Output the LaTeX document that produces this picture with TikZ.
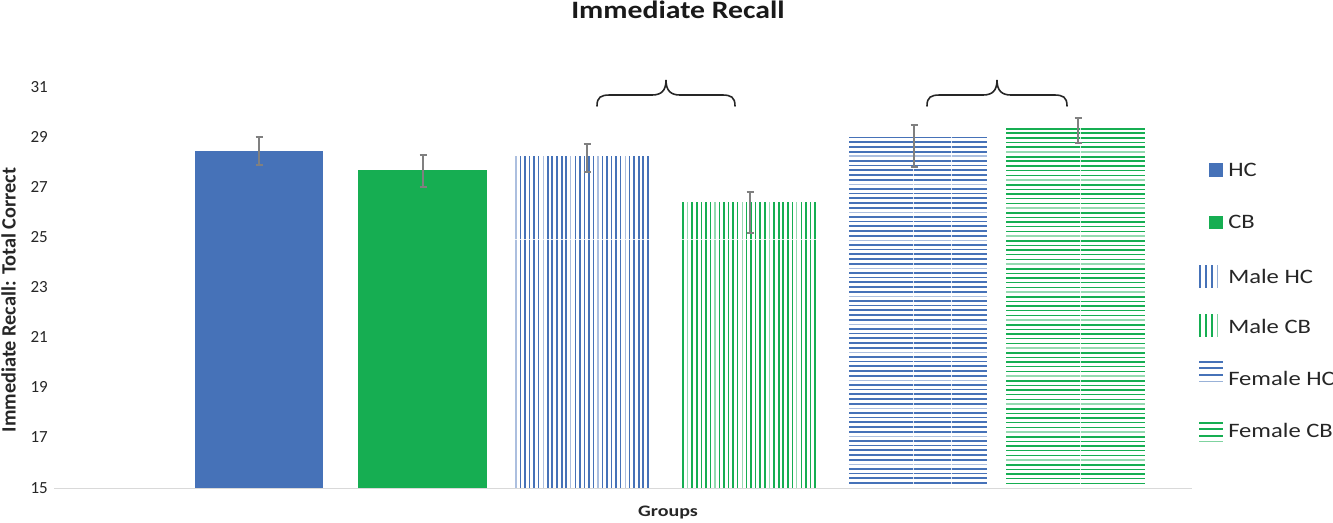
\documentclass[tikz,border=0pt]{standalone}
\usepackage{fontspec}
\setmainfont{Carlito}
\definecolor{hcblue}{RGB}{70,114,184}
\definecolor{cbgreen}{RGB}{22,174,82}
\definecolor{errgray}{RGB}{128,128,128}
\definecolor{axisgray}{RGB}{217,217,217}
\definecolor{txt}{RGB}{38,38,38}
\begin{document}
\begin{tikzpicture}[x=1pt,y=-1pt,
  tick/.style={anchor=east,font=\fontsize{17}{17}\selectfont,text=txt,inner sep=0pt},
  legtext/.style={anchor=west,font=\fontsize{20.5}{20.5}\selectfont,text=txt,inner sep=0pt,xscale=1.2},
  errbar/.style={draw=errgray,line width=2.2pt},
  errcap/.style={draw=errgray,line width=1.6pt},
  bracestyle/.style={draw=black!85,line width=1.6pt,line cap=round},
  seam/.style={draw=white,line width=0.8pt,opacity=0.8}]
\useasboundingbox (0,0) rectangle (1333,522);

% title and axis labels
\node[font=\fontsize{25}{25}\selectfont\bfseries,text=black!90,xscale=1.19,inner sep=0pt] (title) at (678,10) {Immediate Recall};
\node[font=\fontsize{20.3}{20.3}\selectfont\bfseries,text=txt,rotate=90,inner sep=0pt] (ylab) at (8.5,300) {Immediate Recall: Total Correct};
\node[font=\fontsize{16}{16}\selectfont\bfseries,text=txt,xscale=1.25,anchor=base,inner sep=0pt] (xlab) at (668,516.5) {Groups};

% ticks
\foreach \v/\yy in {31/87,29/137,27/187,25/237,23/287,21/337,19/387,17/437,15/488}
  \node[tick] (t\v) at (48,\yy) {\v};

% axis
\draw[axisgray,line width=1.6pt] (54,488.5) -- (1192,488.5);

% solid bars
\fill[hcblue] (195,151) rectangle (323,488);
\fill[cbgreen] (358,170) rectangle (487,488);

% Male HC vertical stripes
\foreach \i in {0,...,29}{
  \pgfmathtruncatemacro\m{mod(\i,6)}
  \pgfmathsetmacro\op{\m==0 ? 0.45 : 1}
  \pgfmathsetmacro\lw{(\m==2 || \m==4) ? 2.0 : 1.3}
  \draw[hcblue,line width=\lw pt,draw opacity=\op] (516+\i*4.55,156) -- (516+\i*4.55,488);
}
% Male CB vertical stripes
\foreach \i in {0,...,29}{
  \pgfmathtruncatemacro\m{mod(\i,6)}
  \pgfmathsetmacro\op{\m==1 ? 0.45 : 1}
  \pgfmathsetmacro\lw{(\m==3 || \m==5) ? 2.0 : 1.3}
  \draw[cbgreen,line width=\lw pt,draw opacity=\op] (683+\i*4.55,202) -- (683+\i*4.55,488);
}
\draw[seam] (515,239) -- (651,239);
\draw[seam] (682,239) -- (819,239);

% Female HC horizontal stripes
\foreach \i in {0,...,74}{
  \pgfmathtruncatemacro\m{mod(\i,6)}
  \pgfmathsetmacro\op{\m==4 ? 0.45 : 1}
  \pgfmathsetmacro\lw{(\m==1 || \m==3) ? 2.0 : 1.4}
  \draw[hcblue,line width=\lw pt,draw opacity=\op] (849,137.5+\i*4.67) -- (987,137.5+\i*4.67);
}
% Female CB horizontal stripes
\foreach \i in {0,...,76}{
  \pgfmathtruncatemacro\m{mod(\i,6)}
  \pgfmathsetmacro\op{\m==5 ? 0.45 : 1}
  \pgfmathsetmacro\lw{(\m==0 || \m==2) ? 2.0 : 1.4}
  \draw[cbgreen,line width=\lw pt,draw opacity=\op] (1006,128.5+\i*4.67) -- (1145,128.5+\i*4.67);
}
\draw[seam] (913,136) -- (913,488);
\draw[seam] (951,136) -- (951,488);
\draw[seam] (1080,127) -- (1080,488);

% error bars
\foreach \xx/\a/\b in {259/137/165, 423/155/187, 587/144/172, 750/192/233, 914/125/167, 1078/118/143}{
  \draw[errbar] (\xx,\a) -- (\xx,\b);
  \draw[errcap] (\xx-3.5,\a) -- (\xx+3.5,\a);
  \draw[errcap] (\xx-3.5,\b) -- (\xx+3.5,\b);
}

% braces
\draw[bracestyle] (597,106) .. controls (597,97) and (601,95) .. (610,95) -- (652,95)
  .. controls (661,95) and (666,91) .. (666,80)
  .. controls (666,91) and (671,95) .. (680,95) -- (722,95)
  .. controls (731,95) and (735,97) .. (735,106);
\draw[bracestyle] (927,106) .. controls (927,97) and (931,95) .. (940,95) -- (983,95)
  .. controls (992,95) and (997,91) .. (997,80)
  .. controls (997,91) and (1002,95) .. (1011,95) -- (1054,95)
  .. controls (1063,95) and (1067,97) .. (1067,106);

% legend
\fill[hcblue] (1209,163) rectangle (1223,177);
\node[legtext] (lhc) at (1228,170) {HC};
\fill[cbgreen] (1209,216) rectangle (1223,229);
\node[legtext] (lcb) at (1228,222) {CB};

\foreach \xx/\op in {1199.8/1,1205.8/1,1212.3/1,1217.5/0.55}
  \draw[hcblue,line width=1.7pt,draw opacity=\op] (\xx,265) -- (\xx,288);
\node[legtext] (lmhc) at (1228,276) {Male HC};
\foreach \xx/\op in {1199.8/1,1205.8/1,1212.3/1,1217.5/0.55}
  \draw[cbgreen,line width=1.7pt,draw opacity=\op] (\xx,314) -- (\xx,337);
\node[legtext] (lmcb) at (1228,326) {Male CB};

\foreach \yy/\op in {362.3/1,368.3/1,375/1,381.5/0.55}
  \draw[hcblue,line width=1.7pt,draw opacity=\op] (1199,\yy) -- (1223,\yy);
\node[legtext] (lfhc) at (1228,378) {Female HC};
\foreach \yy/\op in {422.7/1,429.3/1,435.7/1,441.5/0.55}
  \draw[cbgreen,line width=1.7pt,draw opacity=\op] (1199,\yy) -- (1223,\yy);
\node[legtext] (lfcb) at (1228,430) {Female CB};
\end{tikzpicture}
\end{document}
